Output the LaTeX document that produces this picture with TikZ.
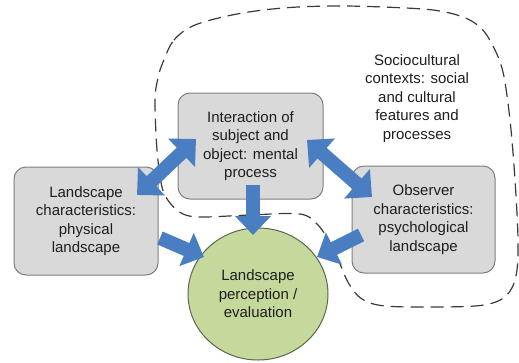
\documentclass[tikz,border=0pt]{standalone}
\usepackage{fontspec}
\setmainfont{Liberation Sans}
\usetikzlibrary{arrows.meta,shapes.geometric}
\definecolor{boxfill}{HTML}{D9D9D9}
\definecolor{boxline}{HTML}{7F7F7F}
\definecolor{arrowblue}{HTML}{4A7EC3}
\definecolor{circfill}{HTML}{C5D99D}
\definecolor{circline}{HTML}{5E6650}
\definecolor{dashcol}{HTML}{3A3A3A}
\definecolor{txt}{HTML}{1E1E1E}
\tikzset{
  box/.style={draw=boxline, fill=boxfill, line width=1pt, rounded corners=12pt,
    align=center, inner sep=0pt, text=txt, font=\fontsize{15}{18.5}\selectfont},
  circ/.style={ellipse, draw=circline, fill=circfill, line width=1pt,
    minimum width=140pt, minimum height=132pt, inner sep=0pt, align=center,
    text=txt, font=\fontsize{15}{18.5}\selectfont},
  plain/.style={align=center, inner sep=0pt, text=txt, font=\fontsize{15}{18.5}\selectfont},
  bigarrow/.style={draw=arrowblue, line width=14pt,
    -{Triangle[width=35pt,length=19pt]}},
  bigdarrow/.style={draw=arrowblue, line width=14pt,
    {Triangle[width=38pt,length=20pt]}-{Triangle[width=38pt,length=20pt]}},
  region/.style={draw=dashcol, line width=1.2pt, dash pattern=on 13pt off 7pt}
}
\begin{document}
\begin{tikzpicture}[x=1pt,y=-1pt]
\useasboundingbox (0,0) rectangle (519,362);
% dashed sociocultural region
\draw[region] plot[smooth cycle, tension=0.55] coordinates {
 (163,62) (174,40) (195,25) (237,14) (283,8) (333,6) (383,7) (433,10)
 (463,17) (481,28) (493,46) (503,72) (510,120) (515,180) (518,240)
 (516,276) (506,296) (484,305) (440,307) (385,306) (362,299) (349,284)
 (340,264) (330,243) (318,225) (300,214) (250,215) (202,217) (183,214)
 (170,203) (162,187) (157,150) (155,100) (158,78)};
\node[plain] (soc) at (417,98.5) {Sociocultural\\contexts: social\\and cultural\\features and\\processes};
% boxes
\node[box, minimum width=145pt, minimum height=106pt] (inter) at (250.5,146)
  {Interaction of\\subject and\\object: mental\\process};
\node[box, minimum width=144pt, minimum height=108pt] (lc) at (86,221)
  {Landscape\\characteristics:\\physical\\landscape};
\node[box, minimum width=143pt, minimum height=107pt] (obs) at (423.5,219.5)
  {Observer\\characteristics:\\psychological\\landscape};
\node[circ] (perc) at (258,294) {Landscape\\perception /\\evaluation};
% arrow end points
\coordinate (a1) at (137,195);
\coordinate (a2) at (196,139);
\coordinate (b1) at (307,140);
\coordinate (b2) at (372,197);
\coordinate (c1) at (253,185);
\coordinate (c2) at (253,235);
\coordinate (d1) at (160,238);
\coordinate (d2) at (204,257);
\coordinate (e1) at (361,235);
\coordinate (e2) at (317,257);
% arrows
\draw[bigdarrow] (a1) -- (a2);
\draw[bigdarrow] (b1) -- (b2);
\draw[bigarrow] (c1) -- (c2);
\draw[bigarrow] (d1) -- (d2);
\draw[bigarrow] (e1) -- (e2);
\end{tikzpicture}
\end{document}
